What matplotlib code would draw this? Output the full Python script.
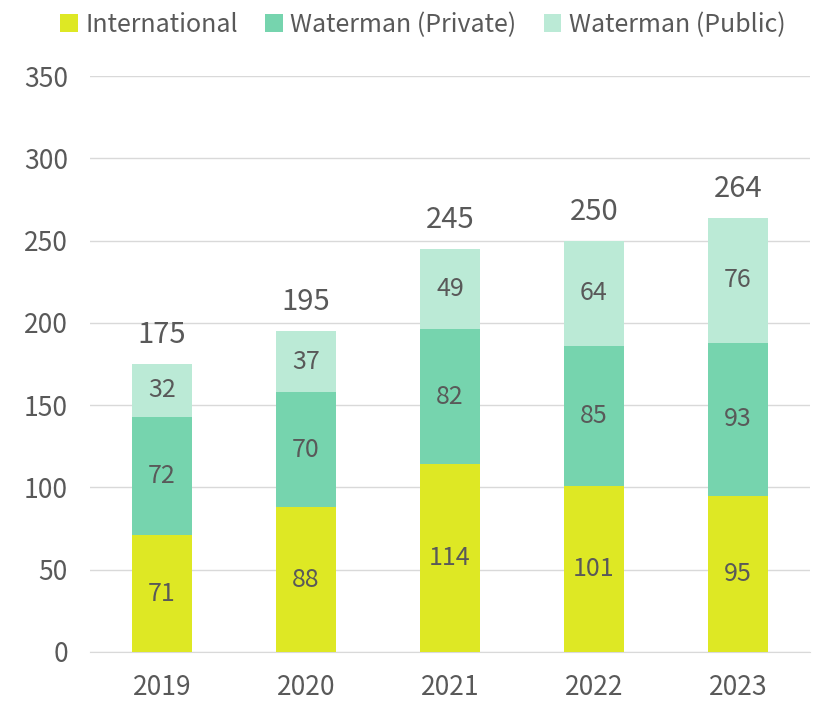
import matplotlib.pyplot as plt
import numpy as np

plt.rcParams['font.family'] = ['Noto Sans CJK JP', 'DejaVu Sans']

years = ["2019", "2020", "2021", "2022", "2023"]
international = [71, 88, 114, 101, 95]
private = [72, 70, 82, 85, 93]
public = [32, 37, 49, 64, 76]

col_int = "#DEE824"
col_priv = "#76D4AE"
col_pub = "#BBEAD6"
txt = "#595959"

fig = plt.figure(figsize=(8.13, 7.04), dpi=100)
ax = fig.add_axes([0.1107, 0.0739, 0.8856, 0.818])

x = np.arange(len(years))
w = 0.42
b1 = ax.bar(x, international, w, color=col_int, label="International", zorder=3)
bottom2 = np.array(international)
b2 = ax.bar(x, private, w, bottom=bottom2, color=col_priv, label="Waterman (Private)", zorder=3)
bottom3 = bottom2 + np.array(private)
b3 = ax.bar(x, public, w, bottom=bottom3, color=col_pub, label="Waterman (Public)", zorder=3)

for bars in (b1, b2, b3):
    for r in bars:
        h = r.get_height()
        ax.text(r.get_x() + r.get_width() / 2, r.get_y() + h / 2, str(int(h)),
                ha="center", va="center", fontsize=18, color=txt, zorder=4)

totals = bottom3 + np.array(public)
for xi, t in zip(x, totals):
    ax.annotate(str(int(t)), (xi, t), xytext=(0, 10), textcoords="offset points",
                ha="center", va="bottom", fontsize=21, color=txt)

ax.set_xlim(-0.5, 4.5)
ax.set_ylim(0, 350)
ax.set_yticks(range(0, 351, 50))
ax.set_xticks(x)
ax.set_xticklabels(years)
ax.tick_params(axis="both", length=0, labelsize=19, colors=txt)
ax.tick_params(axis="y", pad=16)
ax.tick_params(axis="x", pad=16)
ax.grid(axis="y", color="#D9D9D9", linewidth=1, zorder=0)
for s in ["top", "right", "left"]:
    ax.spines[s].set_visible(False)
ax.spines["bottom"].set_color("#D9D9D9")

leg = fig.legend(loc="upper center", bbox_to_anchor=(0.52, 1.015), ncol=3, frameon=False,
                 fontsize=18, handlelength=0.7, handleheight=0.7, handletextpad=0.3,
                 columnspacing=1.1)
for t in leg.get_texts():
    t.set_color(txt)

fig.savefig("out.png", dpi=100)
